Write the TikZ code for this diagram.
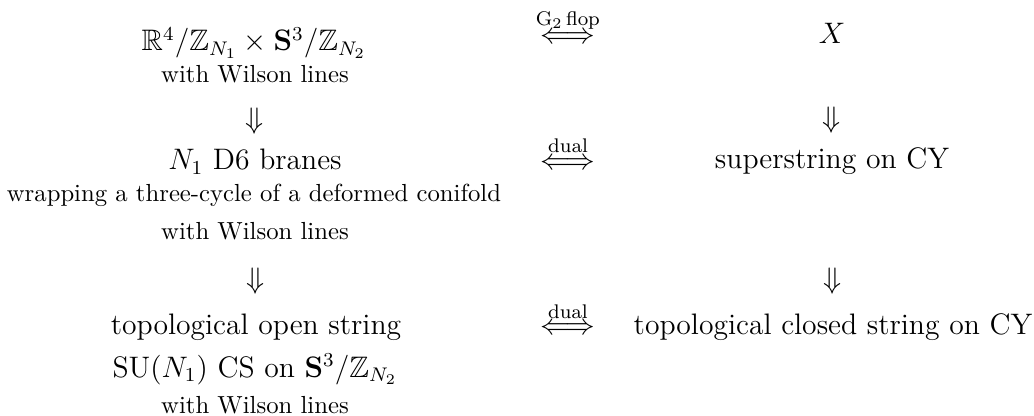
\documentclass[tikz,border=0pt]{standalone}
\usepackage{amsmath,amssymb}
\begin{document}
\begin{tikzpicture}[x=0.4049pt, y=-0.4049pt,
    every node/.style={inner sep=0pt, anchor=base},
    chinh/.style={font=\large},
    phu/.style={font=\normalsize},
    muiten/.style={font=\large, anchor=center}]
    % Khung hình theo kích thước ảnh
    \useasboundingbox (0,0) rectangle (1034,416);

    % 1. Cột trái
    \node[chinh] (r4) at (254,51) {$\mathbb{R}^4/\mathbb{Z}_{N_1}\times\mathbf{S}^3/\mathbb{Z}_{N_2}$};
    \node[phu] (wl1) at (255,83) {with Wilson lines};
    \node[chinh] (br) at (255,170) {$N_1$ D6 branes};
    \node[phu] (wrap) at (254,202) {wrapping a three-cycle of a deformed conifold};
    \node[phu] (wl2) at (255,240) {with Wilson lines};
    \node[chinh] (top) at (256,335) {topological open string};
    \node[chinh] (su) at (255,377) {SU($N_1$) CS on $\mathbf{S}^3/\mathbb{Z}_{N_2}$};
    \node[phu] (wl3) at (255,414) {with Wilson lines};

    % 2. Cột phải
    \node[chinh] (xn) at (832,44) {$X$};
    \node[chinh] (ss) at (832,169) {superstring on CY};
    \node[chinh] (tc) at (833,335) {topological closed string on CY};

    % 3. Mũi tên dọc
    \path (wl1.base) -- node[muiten, pos=0.437] (d1) {$\Downarrow$} (br.base);
    \path (xn.base) -- node[muiten, pos=0.608] (d2) {$\Downarrow$} (ss.base);
    \path (wl2.base) -- node[muiten, pos=0.43] (d3) {$\Downarrow$} (top.base);
    \path (ss.base) -- node[muiten, pos=0.675] (d4) {$\Downarrow$} (tc.base);

    % 4. Mũi tên ngang
    \path (r4 |- xn.base) -- node[chinh, pos=0.543] (h1) {$\stackrel{\text{G}_2\,\text{flop}}{\Longleftrightarrow}$} (xn.base);
    \path (br.base) -- node[chinh, pos=0.5425] (h2) {$\stackrel{\mathrm{dual}}{\Longleftrightarrow}$} (ss.base);
    \path (top.base) -- node[chinh, pos=0.5407] (h3) {$\stackrel{\mathrm{dual}}{\Longleftrightarrow}$} (tc.base);
\end{tikzpicture}
\end{document}
